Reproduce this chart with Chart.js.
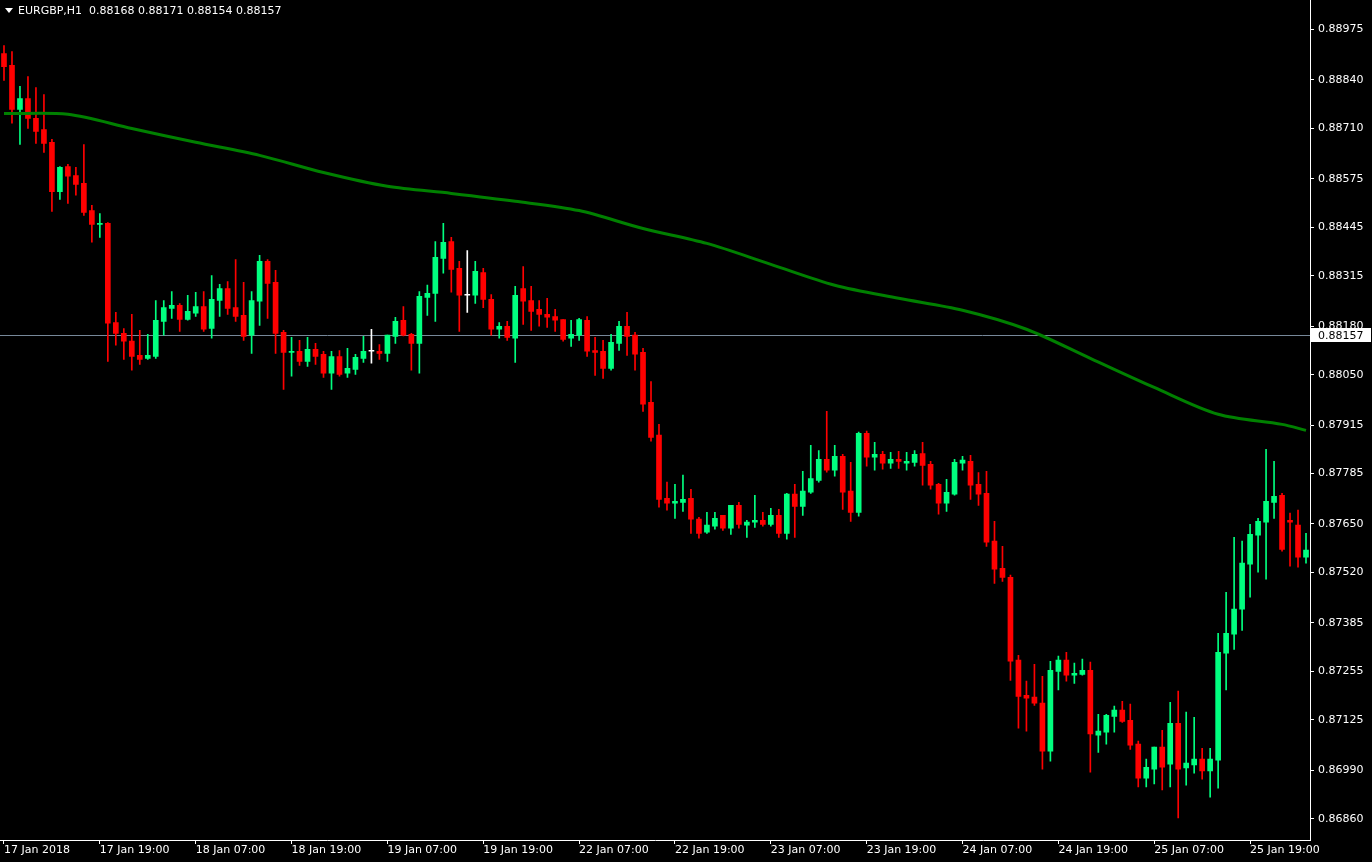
<!DOCTYPE html>
<html>
<head>
<meta charset="utf-8">
<script src="https://cdn.jsdelivr.net/npm/chart.js@4"></script>
<style>
  html, body { margin: 0; padding: 0; background: #000; }
  #wrap { width: 1372px; height: 862px; position: relative; }
</style>
</head>
<body>
<div id="wrap"><canvas id="chart"></canvas></div>
<script>
// EURGBP H1 candles, prices in points (1 point = 0.00001)
const open = [88911,88879,88761,88790,88737,88707,88673,88541,88608,88584,
88563,88490,88453,88456,88190,88161,88140,88102,88094,88099,
88193,88228,88236,88198,88215,88233,88174,88249,88281,88230,
88209,88156,88247,88354,88298,88164,88110,88113,88086,88118,
88105,88054,88099,88054,88064,88094,88113,88113,88107,88153,
88196,88158,88134,88257,88268,88362,88407,88335,88263,88263,
88324,88252,88172,88180,88148,88281,88249,88225,88212,88206,
88198,88148,88156,88196,88115,88113,88067,88134,88180,88156,
88110,87976,87888,87719,87706,87708,87719,87663,87628,87644,
87673,87639,87700,87647,87655,87660,87649,87673,87625,87730,
87697,87735,87767,87823,87794,87831,87738,87681,87893,87829,
87837,87813,87823,87813,87815,87839,87810,87756,87706,87730,
87813,87818,87756,87732,87604,87531,87507,87285,87191,87186,
87170,87041,87255,87285,87245,87247,87258,87084,87092,87134,
87151,87124,87060,86969,86993,87052,87006,87116,86996,87004,
87020,86988,87017,87304,87355,87422,87542,87620,87655,87708,
87727,87660,87647,87561];
const high = [88932,88916,88823,88849,88820,88801,88681,88608,88614,88606,
88667,88504,88482,88458,88217,88174,88212,88169,88158,88249,
88249,88273,88241,88263,88271,88273,88316,88292,88300,88359,
88298,88273,88370,88359,88330,88169,88150,88142,88150,88134,
88113,88113,88115,88121,88105,88153,88172,88131,88156,88204,
88233,88161,88273,88290,88407,88456,88418,88354,88383,88354,
88335,88265,88190,88193,88287,88340,88287,88249,88255,88225,
88198,88196,88201,88206,88150,88142,88158,88193,88217,88164,
88121,88032,87917,87762,87756,87781,87743,87668,87681,87681,
87673,87700,87708,87660,87727,87681,87692,87689,87732,87756,
87791,87861,87847,87952,87861,87837,87815,87896,87899,87869,
87845,87842,87845,87842,87847,87869,87818,87759,87770,87823,
87831,87834,87788,87791,87657,87590,87513,87298,87229,87274,
87242,87282,87296,87306,87277,87288,87280,87140,87140,87162,
87175,87167,87068,87020,87052,87097,87172,87202,87146,87132,
87049,87049,87357,87467,87614,87604,87649,87665,87850,87818,
87732,87679,87687,87625];
const low = [88839,88724,88667,88710,88670,88646,88488,88520,88509,88531,
88477,88405,88418,88086,88129,88091,88062,88078,88091,88094,
88156,88201,88166,88196,88206,88166,88148,88206,88212,88193,
88142,88107,88182,88201,88107,88011,88046,88075,88072,88078,
88043,88011,88046,88043,88051,88083,88081,88091,88086,88134,
88154,88062,88054,88209,88193,88322,88271,88166,88217,88241,
88230,88156,88148,88142,88083,88185,88169,88180,88177,88166,
88140,88126,88142,88099,88048,88040,88062,88115,88102,88062,
87952,87872,87695,87687,87665,87684,87625,87612,87625,87636,
87633,87622,87639,87614,87641,87644,87644,87614,87609,87614,
87673,87732,87762,87789,87778,87689,87657,87671,87805,87794,
87797,87799,87799,87794,87805,87754,87743,87676,87684,87727,
87794,87716,87700,87590,87491,87496,87231,87103,87095,87164,
86993,87014,87205,87229,87223,87245,86985,87038,87060,87092,
87118,87046,86945,86945,86953,86937,86945,86862,86950,86982,
86966,86918,86942,87205,87314,87365,87454,87521,87502,87665,
87577,87537,87534,87545];
const close = [88876,88761,88790,88737,88702,88670,88541,88606,88582,88560,
88485,88453,88456,88188,88161,88140,88099,88091,88102,88196,
88230,88236,88198,88220,88233,88172,88252,88281,88228,88206,
88153,88249,88354,88295,88161,88110,88113,88086,88118,88099,
88054,88099,88051,88067,88097,88113,88113,88107,88156,88193,
88156,88134,88260,88268,88365,88405,88332,88263,88263,88327,
88252,88172,88180,88150,88263,88247,88220,88212,88204,88196,
88145,88158,88198,88113,88110,88067,88137,88180,88153,88105,
87971,87882,87716,87706,87711,87716,87663,87625,87647,87665,
87639,87700,87649,87655,87660,87649,87673,87625,87730,87697,
87738,87772,87823,87794,87831,87735,87681,87893,87829,87837,
87813,87823,87818,87818,87837,87807,87754,87706,87735,87815,
87821,87754,87730,87601,87529,87507,87282,87188,87183,87170,
87041,87258,87285,87245,87250,87258,87087,87095,87137,87151,
87121,87057,86969,86998,87052,86998,87116,86993,87009,87020,
86988,87020,87306,87357,87422,87545,87622,87657,87711,87724,
87582,87655,87561,87580];

// moving average, read every 8 bars (bar index, value in points)
const maBars = [0, 8, 16, 24, 32, 40, 48, 56, 64, 72, 80, 88, 96, 104, 112, 120, 128, 136, 144, 152, 160, 163];
const maValues = [88750,88748,88710,88673,88638,88592,88555,88536,88515,88490,88442,88402,88346,88290,88255,88223,88172,88094,88016,87944,87917,87901];

const timeLabels = ['17 Jan 2018','17 Jan 19:00','18 Jan 07:00','18 Jan 19:00','19 Jan 07:00','19 Jan 19:00',
  '22 Jan 07:00','22 Jan 19:00','23 Jan 07:00','23 Jan 19:00','24 Jan 07:00','24 Jan 19:00','25 Jan 07:00','25 Jan 19:00'];
const priceTicks = [0.88975,0.88840,0.88710,0.88575,0.88445,0.88315,0.88180,0.88050,0.87915,0.87785,0.87650,0.87520,0.87385,0.87255,0.87125,0.86990,0.86860];
const bidPrice = 0.88157;
const header = 'EURGBP,H1  0.88168 0.88171 0.88154 0.88157';

const P = 0.00001;
const BULL = '#00ff7f', BEAR = '#ff0000', DOJI = '#ffffff';
const idx = open.map((_, i) => i);
const colorOf = i => close[i] > open[i] ? BULL : (close[i] < open[i] ? BEAR : DOJI);

const maData = idx.map(() => null);
maBars.forEach((b, k) => { maData[b] = maValues[k] * P; });

const chartPlugin = {
  id: 'mt4',
  beforeDraw(chart) {
    const c = chart.ctx;
    c.save();
    c.fillStyle = '#000';
    c.fillRect(0, 0, chart.width, chart.height);
    c.restore();
  },
  beforeDatasetsDraw(chart) {
    const c = chart.ctx, a = chart.chartArea;
    const y = Math.round(chart.scales.y.getPixelForValue(bidPrice)) + 0.5;
    c.save();
    c.strokeStyle = '#778899';
    c.lineWidth = 1;
    c.beginPath(); c.moveTo(a.left, y); c.lineTo(a.right, y); c.stroke();
    c.restore();
  },
  afterDraw(chart) {
    const c = chart.ctx, a = chart.chartArea;
    const y = Math.round(chart.scales.y.getPixelForValue(bidPrice));
    c.save();
    // axis border continued to the top edge
    c.strokeStyle = '#fff';
    c.lineWidth = 1;
    c.beginPath(); c.moveTo(a.right + 0.5, 0); c.lineTo(a.right + 0.5, a.top + 1); c.stroke();
    c.fillStyle = '#fff';
    c.fillRect(a.right + 1, y - 7, 60, 14);
    c.fillStyle = '#000';
    c.font = '11px "DejaVu Sans"';
    c.textBaseline = 'middle';
    c.fillText(bidPrice.toFixed(5), a.right + 8, y + 1);
    // header
    c.fillStyle = '#fff';
    c.beginPath(); c.moveTo(5, 8); c.lineTo(13, 8); c.lineTo(9, 13); c.closePath(); c.fill();
    c.textBaseline = 'middle';
    c.fillText(header, 18, 11);
    c.restore();
  }
};

new Chart(document.getElementById('chart'), {
  type: 'bar',
  data: {
    labels: idx,
    datasets: [
      {
        type: 'line',
        data: maData,
        borderColor: '#008000',
        borderWidth: 3,
        pointRadius: 0,
        spanGaps: true,
        tension: 0.3,
        order: 0
      },
      {
        data: idx.map(i => [open[i] * P, close[i] * P]),
        backgroundColor: idx.map(colorOf),
        barThickness: 5,
        minBarLength: 1,
        grouped: false,
        order: 1
      },
      {
        data: idx.map(i => [low[i] * P, high[i] * P]),
        backgroundColor: idx.map(colorOf),
        barThickness: 1,
        grouped: false,
        order: 2
      }
    ]
  },
  options: {
    responsive: true,
    maintainAspectRatio: false,
    animation: false,
    layout: { padding: 0 },
    plugins: { legend: { display: false }, tooltip: { enabled: false } },
    scales: {
      x: {
        offset: true,
        afterFit(s) { s.height = 22; },
        border: { display: true, color: '#fff' },
        grid: {
          offset: false,
          drawOnChartArea: false,
          tickLength: 4,
          color: ctx => (ctx.index % 12 === 0 ? '#fff' : 'rgba(0,0,0,0)')
        },
        ticks: {
          autoSkip: false,
          maxRotation: 0,
          align: 'start',
          padding: 0,
          color: '#fff',
          font: { family: 'DejaVu Sans', size: 11 },
          callback: (v, i) => (i % 12 === 0 ? timeLabels[i / 12] : '')
        }
      },
      y: {
        position: 'right',
        min: 0.86803,
        max: 0.89026,
        afterFit(s) { s.width = 62; },
        afterBuildTicks(s) { s.ticks = priceTicks.map(v => ({ value: v })); },
        border: { display: true, color: '#fff' },
        grid: { drawOnChartArea: false, tickLength: 4, color: '#fff' },
        ticks: {
          padding: 4,
          color: '#fff',
          font: { family: 'DejaVu Sans', size: 11 },
          callback: v => v.toFixed(5)
        }
      }
    }
  },
  plugins: [chartPlugin]
});
</script>
</body>
</html>
